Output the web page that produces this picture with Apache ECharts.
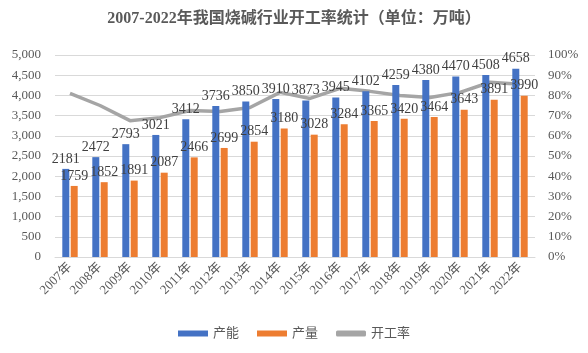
<!DOCTYPE html>
<html>
<head>
<meta charset="utf-8">
<script src="https://cdn.jsdelivr.net/npm/echarts@6/dist/echarts.min.js"></script>
<style>
  html, body { margin: 0; padding: 0; background: #fff; }
  #main { width: 588px; height: 353px; }
</style>
</head>
<body>
<div id="main"></div>
<script>
// 年份
const years = ["2007年", "2008年", "2009年", "2010年", "2011年", "2012年", "2013年", "2014年",
  "2015年", "2016年", "2017年", "2018年", "2019年", "2020年", "2021年", "2022年"];
// 产能（万吨）
const capacity = [2181, 2472, 2793, 3021, 3412, 3736, 3850, 3910, 3873, 3945, 4102, 4259, 4380, 4470, 4508, 4658];
// 产量（万吨）
const output = [1759, 1852, 1891, 2087, 2466, 2699, 2854, 3180, 3028, 3284, 3365, 3420, 3464, 3643, 3891, 3990];
// 开工率
const utilization = [0.81, 0.75, 0.675, 0.69, 0.725, 0.72, 0.74, 0.815, 0.785, 0.835, 0.82, 0.80, 0.79, 0.815, 0.865, 0.855];

const serif = "'Liberation Serif', 'Times New Roman', 'Noto Sans CJK SC', serif";
const labelStyle = {
  show: true,
  position: "top",
  distance: 3,
  color: "#404040",
  fontSize: 14,
  fontFamily: serif
};

const chart = echarts.init(document.getElementById("main"));
chart.setOption({
  animation: false,
  title: {
    text: "2007-2022年我国烧碱行业开工率统计（单位：万吨）",
    left: "center",
    top: 6,
    textStyle: { fontSize: 16, fontWeight: "bold", color: "#595959", fontFamily: serif }
  },
  legend: {
    bottom: 8,
    itemWidth: 30,
    itemHeight: 6,
    itemGap: 18,
    textStyle: { fontSize: 13, color: "#595959", fontFamily: serif },
    data: [
      { name: "产能", icon: "rect" },
      { name: "产量", icon: "rect" },
      { name: "开工率", icon: "roundRect" }
    ]
  },
  grid: { left: 55, right: 53, top: 55, bottom: 96 },
  xAxis: {
    type: "category",
    data: years,
    axisLine: { lineStyle: { color: "#d9d9d9" } },
    axisTick: { show: false },
    axisLabel: { rotate: 45, color: "#595959", fontSize: 13, fontFamily: serif, margin: 8 }
  },
  yAxis: [
    {
      type: "value",
      min: 0, max: 5000, interval: 500,
      axisLine: { show: false },
      axisTick: { show: false },
      splitLine: { lineStyle: { color: "#d9d9d9" } },
      axisLabel: {
        color: "#595959", fontSize: 13, fontFamily: serif, margin: 14,
        formatter: v => v.toLocaleString("en-US")
      }
    },
    {
      type: "value",
      min: 0, max: 1, interval: 0.1,
      axisLine: { show: false },
      axisTick: { show: false },
      splitLine: { show: false },
      axisLabel: {
        color: "#595959", fontSize: 13, fontFamily: serif, margin: 13,
        formatter: v => Math.round(v * 100) + "%"
      }
    }
  ],
  series: [
    {
      name: "产能",
      type: "bar",
      data: capacity,
      barWidth: 7,
      barGap: "20%",
      itemStyle: { color: "#4472c4" },
      label: labelStyle
    },
    {
      name: "产量",
      type: "bar",
      data: output,
      barWidth: 7,
      itemStyle: { color: "#ed7d31" },
      label: labelStyle
    },
    {
      name: "开工率",
      type: "line",
      yAxisIndex: 1,
      data: utilization,
      symbol: "none",
      lineStyle: { color: "#a5a5a5", width: 3.5 },
      itemStyle: { color: "#a5a5a5" },
      z: 1
    }
  ]
});
</script>
</body>
</html>
